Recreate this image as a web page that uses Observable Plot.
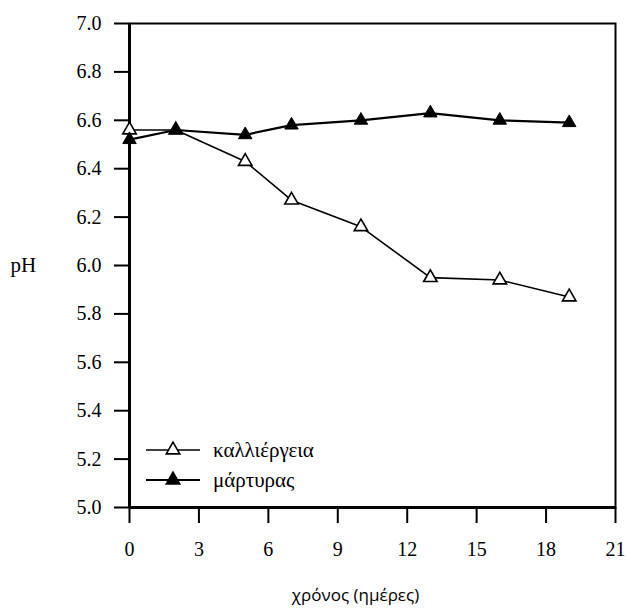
<!DOCTYPE html>
<html><head><meta charset="utf-8">
<script src="https://cdn.jsdelivr.net/npm/d3@7"></script>
<script src="https://cdn.jsdelivr.net/npm/@observablehq/plot@0.6"></script>
<style>body{margin:0;background:#fff} #chart{position:relative;width:626px;height:611px;background:#fff}</style>
</head><body><div id="chart"></div>
<script>
const days = [0, 2, 5, 7, 10, 13, 16, 19];
const culture = [6.56, 6.56, 6.43, 6.27, 6.16, 5.95, 5.94, 5.87];
const control = [6.52, 6.56, 6.54, 6.58, 6.60, 6.63, 6.60, 6.59];
const seriesNames = ["καλλιέργεια", "μάρτυρας"];
const xTicks = [0, 3, 6, 9, 12, 15, 18, 21];
const yTicks = [5.0, 5.2, 5.4, 5.6, 5.8, 6.0, 6.2, 6.4, 6.6, 6.8, 7.0];
const yLabel = "pH";
const xLabel = "χρόνος (ημέρες)";

const SERIF = "'Liberation Serif', 'Times New Roman', 'DejaVu Serif', serif";
const cultureData = days.map((d, i) => ({day: d, pH: culture[i]}));
const controlData = days.map((d, i) => ({day: d, pH: control[i]}));

const plot = Plot.plot({
  width: 626, height: 611,
  marginLeft: 129, marginRight: 11, marginTop: 23, marginBottom: 104,
  style: {fontFamily: SERIF, fontSize: "20px", color: "#000", background: "#fff"},
  x: {domain: [0, 21], ticks: xTicks},
  y: {domain: [5, 7], ticks: yTicks},
  marks: [
    Plot.axisY({ticks: yTicks, tickSize: 15, tickPadding: 13, tickFormat: d => d.toFixed(1), label: null, strokeWidth: 2, fontFamily: SERIF, fontSize: 20}),
    Plot.axisX({ticks: xTicks, tickSize: 16, tickPadding: 18, label: null, strokeWidth: 2, fontFamily: SERIF, fontSize: 20}),
    Plot.frame({strokeWidth: 2}),
    Plot.ruleX([0], {strokeWidth: 3}),
    Plot.ruleY([5], {strokeWidth: 3}),
    Plot.line(controlData, {x: "day", y: "pH", stroke: "black", strokeWidth: 2.2}),
    Plot.line(cultureData, {x: "day", y: "pH", stroke: "black", strokeWidth: 1.6}),
    Plot.dot(cultureData, {x: "day", y: "pH", symbol: "triangle", r: 5, fill: "white", stroke: "black", strokeWidth: 1.6}),
    Plot.dot(controlData, {x: "day", y: "pH", symbol: "triangle", r: 5, fill: "black", stroke: "black", strokeWidth: 1}),
    Plot.text([yLabel], {text: d => d, frameAnchor: "left", dx: -119, textAnchor: "start", fontSize: 21, fontFamily: SERIF}),
    Plot.text([xLabel], {text: d => d, frameAnchor: "bottom", dx: -17, dy: 93, fontFamily: "'Open Sans', sans-serif", fontSize: 17})
  ]
});
const chart = document.getElementById("chart");
chart.appendChild(plot);

// legend overlay
const svg = d3.select(chart).append("svg")
  .attr("width", 626).attr("height", 611)
  .style("position", "absolute").style("left", 0).style("top", 0)
  .style("pointer-events", "none");
const tri = d3.symbol(d3.symbolTriangle, Math.PI * 25);
const legendRows = [
  {name: seriesNames[0], fill: "white", y: 450, w: 1.6},
  {name: seriesNames[1], fill: "black", y: 480, w: 2.2}
];
legendRows.forEach(r => {
  svg.append("line").attr("x1", 146).attr("x2", 200).attr("y1", r.y).attr("y2", r.y)
    .attr("stroke", "black").attr("stroke-width", r.w);
  svg.append("path").attr("d", tri()).attr("transform", `translate(173,${r.y})`)
    .attr("fill", r.fill).attr("stroke", "black").attr("stroke-width", 1.6);
  svg.append("text").attr("x", 213).attr("y", r.y).attr("dy", "0.32em")
    .attr("font-family", SERIF).attr("font-size", 21).text(r.name);
});
</script>
</body></html>
